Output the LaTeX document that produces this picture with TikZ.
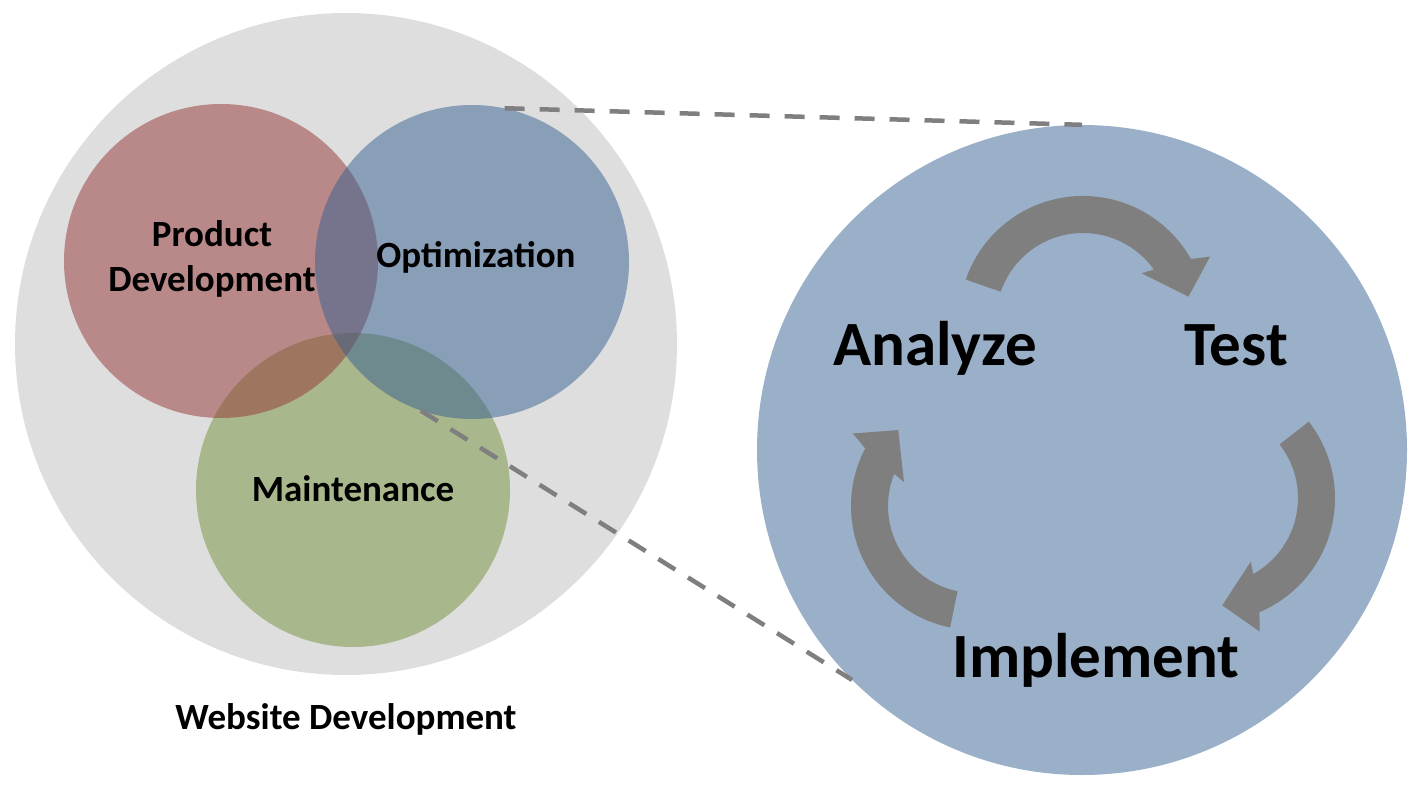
\documentclass[tikz,border=0pt]{standalone}
\usepackage{fontspec}
\setmainfont{Carlito}
\usetikzlibrary{positioning}
\definecolor{webgrey}{HTML}{DEDEDE}
\definecolor{prodred}{HTML}{943634}
\definecolor{optblue}{HTML}{365F91}
\definecolor{maintgreen}{HTML}{76923C}
\definecolor{turngrey}{HTML}{7F7F7F}

\begin{document}
\begin{tikzpicture}[x=1pt,y=-1pt,
    area/.style={circle,inner sep=0pt,minimum size=314pt,fill opacity=.5},
    lbl/.style={font=\bfseries\fontsize{37}{45}\selectfont,align=center},
    phase/.style={font=\bfseries\fontsize{63}{76}\selectfont},
    callout/.style={draw=turngrey,line width=4.5pt,dash pattern=on 20pt off 15pt},
    turn/.style={fill=turngrey}]
  \useasboundingbox (0,0) rectangle (1422,792);
  % website development
  \node[circle,inner sep=0pt,minimum size=662pt,fill=webgrey] (web) at (346,344) {};
  \node[lbl,below=25pt of web] (webl) {Website Development};
  % the three areas
  \node[area,fill=maintgreen] (maint) at (353,490) {};
  \node[area,fill=prodred] (prod) at (221,261) {};
  \node[area,fill=optblue] (opt) at (472,262) {};
  \node[lbl] (prodl) at (212,259) {Product\\Development};
  \node[lbl,anchor=base] (optl) at (476,267) {Optimization};
  \node[lbl,anchor=base] (maintl) at (353,501) {Maintenance};
  % optimization cycle
  \node[circle,inner sep=0pt,minimum size=650pt,fill=optblue,fill opacity=.5] (optz) at (1082,450) {};
  \node[phase,anchor=base] (ana) at (935,365) {Analyze};
  \node[phase,anchor=base] (test) at (1236,365) {Test};
  \node[phase,anchor=base] (impl) at (1096,677) {Implement};
  % curved arrows: centre / tail angle / head angle
  \foreach \cx/\cy/\ta/\hb in {1083/320/-161/-38.5, 1211/498/-38/58, 975/506/101.6/198.7}
  {
    \begin{scope}[shift={(\cx,\cy)}]
      \fill[turn] (\ta:124) arc[start angle=\ta, end angle=\hb+9, radius=124]
        -- (\hb+12:142) -- (\hb+26:108) -- (\hb:75) -- (\hb+3:87)
        arc[start angle=\hb+3, end angle=\ta, radius=87] -- cycle;
    \end{scope}
  }
  % zoom lines
  \draw[callout] (opt.78) -- (optz.90);
  \draw[callout] (opt.-109) -- (optz.-135);
\end{tikzpicture}
\end{document}
